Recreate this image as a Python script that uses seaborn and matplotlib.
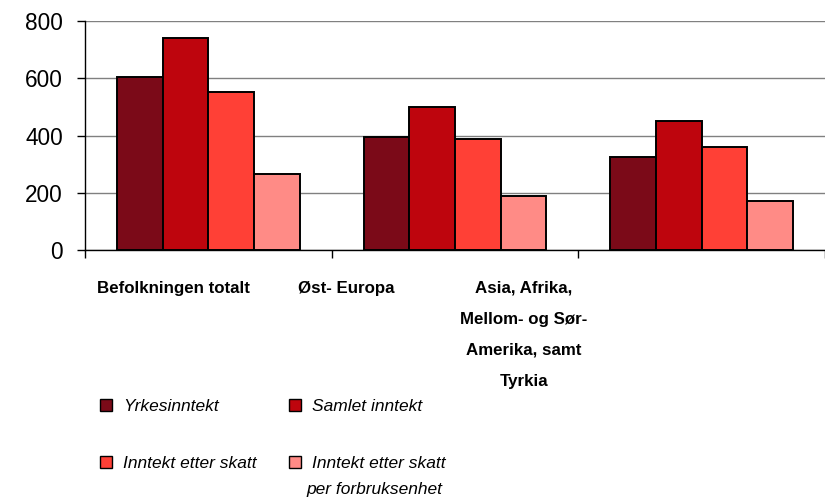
import matplotlib
matplotlib.use("Agg")
import matplotlib.pyplot as plt
import matplotlib.patches as mpatches
import numpy as np
import pandas as pd
import seaborn as sns

# ------------------------------ data
GROUPS = [
    "Befolkningen totalt",
    "Øst- Europa",
    "Asia, Afrika,\nMellom- og Sør-\nAmerika, samt\nTyrkia",
]
SERIES = [
    "Yrkesinntekt",
    "Samlet inntekt",
    "Inntekt etter skatt",
    "Inntekt etter skatt per forbruksenhet",
]
YRKESINNTEKT = [606, 395, 324]
SAMLET_INNTEKT = [740, 500, 451]
ETTER_SKATT = [551, 388, 360]
PER_FORBRUKSENHET = [267, 189, 170]
Y_TICKS = [0, 200, 400, 600, 800]

# ------------------------------ style
PALETTE = ["#7B0A18", "#BE050D", "#FF4036", "#FF8B86"]
GRID = "#808080"

DPI = 100
FIGSIZE = (825 / DPI, 503 / DPI)

sns.set_style("white")
plt.rcParams["font.family"] = ["Liberation Sans", "DejaVu Sans"]
plt.rcParams["text.color"] = "black"
plt.rcParams["xtick.color"] = "black"
plt.rcParams["ytick.color"] = "black"
plt.rcParams["xtick.labelcolor"] = "black"
plt.rcParams["ytick.labelcolor"] = "black"

df = pd.DataFrame({
    "group": np.repeat(GROUPS, len(SERIES)),
    "series": SERIES * len(GROUPS),
    "value": np.array([YRKESINNTEKT, SAMLET_INNTEKT, ETTER_SKATT, PER_FORBRUKSENHET]).T.ravel(),
})

fig = plt.figure(figsize=FIGSIZE, dpi=DPI)
ax = fig.add_axes([0.103, 0.503, 0.897, 0.455])

sns.barplot(
    data=df, x="group", y="value", hue="series",
    order=GROUPS, hue_order=SERIES, palette=PALETTE, saturation=1,
    width=0.74, edgecolor="black", linewidth=1.4,
    legend=False, ax=ax,
)

ax.set_xlim(-0.5, 2.5)
ax.set_ylim(0, 800)
ax.set_yticks(Y_TICKS)
ax.set_yticklabels([str(t) for t in Y_TICKS], fontsize=16.3)
ax.yaxis.grid(True, color=GRID, linewidth=1.0)
ax.set_axisbelow(True)
ax.tick_params(axis="y", left=True, length=5.8, width=1, pad=10)

# category labels sit left of the group centres in the original
LABEL_POS = [-0.143, 0.558, 1.28]
ax.set_xticks(LABEL_POS)
ax.set_xticklabels(GROUPS, fontsize=12.2, fontweight="bold", linespacing=2.35)
ax.set_xticks([-0.5, 0.5, 1.5, 2.5], minor=True)
ax.tick_params(axis="x", which="major", length=0, pad=22)
ax.tick_params(axis="x", which="minor", bottom=True, length=6, width=1)

for side in ["top", "right"]:
    ax.spines[side].set_visible(False)
for side in ["left", "bottom"]:
    ax.spines[side].set_color("black")
    ax.spines[side].set_linewidth(1.0)
ax.set_xlabel("")
ax.set_ylabel("")

# legend: two columns built as two legends
handles = [mpatches.Patch(facecolor=c, edgecolor="black", linewidth=1.0) for c in PALETTE]
leg_kw = dict(
    frameon=False, loc="upper left", bbox_transform=fig.transFigure,
    borderaxespad=0, borderpad=0, handlelength=0.7, handleheight=0.7,
    handletextpad=0.65, labelspacing=2.4,
    prop={"size": 12.5, "style": "italic"},
)
leg1 = fig.legend([handles[0], handles[2]], [SERIES[0], SERIES[2]],
                  bbox_to_anchor=(0.121, 0.207), **leg_kw)
leg2 = fig.legend([handles[1], handles[3]], [SERIES[1], "Inntekt etter skatt"],
                  bbox_to_anchor=(0.350, 0.207), **leg_kw)
fig.text(0.371, 0.026, "per forbruksenhet", fontsize=12.5, style="italic",
         ha="left", va="center")

fig.savefig("out.png", dpi=DPI)
